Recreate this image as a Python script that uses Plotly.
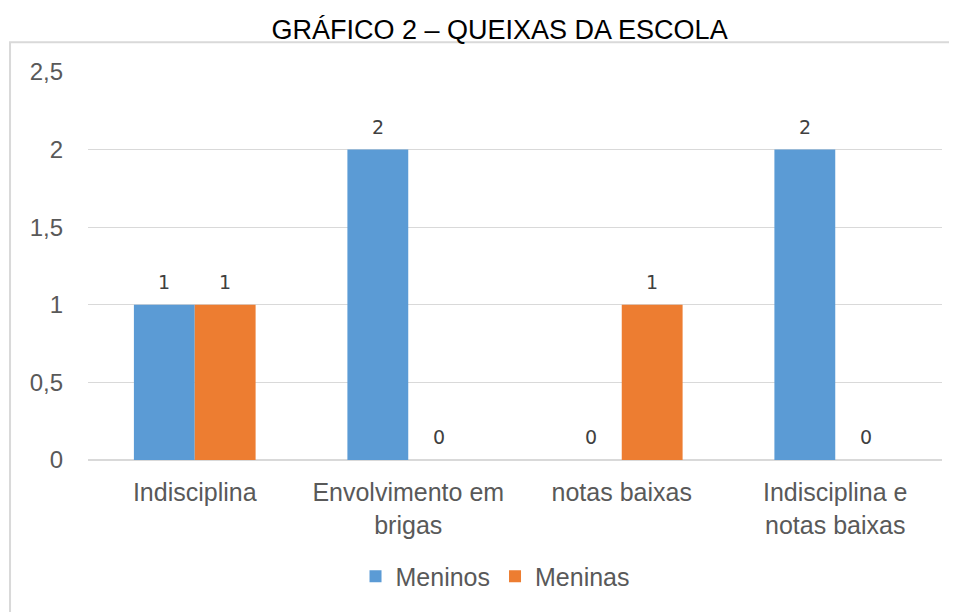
import plotly.graph_objects as go

categories = ["Indisciplina", "Envolvimento em<br>brigas", "notas baixas", "Indisciplina e<br>notas baixas"]
series_names = ["Meninos", "Meninas"]
meninos = [1, 2, 0, 2]
meninas = [1, 0, 1, 0]
colors = ["#5B9BD5", "#ED7D31"]
title = "GRÁFICO 2 – QUEIXAS DA ESCOLA"

W, H = 949, 604
ML, MT, PW, PH = 80, 64, 854, 391
BARGAP = 0.43

fig = go.Figure()
for name, vals, col in zip(series_names, [meninos, meninas], colors):
    fig.add_trace(go.Bar(name=name, x=categories, y=vals, marker_color=col,
                         marker_line_width=0, hoverinfo="x+y"))

# data labels (annotations anchored to the data, shifted for each group position)
bar_px = PW / len(categories) * (1 - BARGAP) / 2
for j, vals in enumerate([meninos, meninas]):
    for cat, v in zip(categories, vals):
        fig.add_annotation(x=cat, y=v, xref="x", yref="y", text=str(v), showarrow=False,
                           xshift=(j - 0.5) * bar_px, yshift=10, yanchor="bottom",
                           font=dict(family="DejaVu Sans, sans-serif", size=19, color="#404040"))

fig.update_layout(
    width=W, height=H,
    margin=dict(l=ML, r=W - ML - PW, t=MT, b=H - MT - PH),
    paper_bgcolor="white", plot_bgcolor="white",
    separators=",.",
    barmode="group", bargap=BARGAP, bargroupgap=0,
    title=dict(text=title, x=0.518, xanchor="center", y=0.9636, yanchor="middle",
               font=dict(family="Liberation Sans, Arial, sans-serif", size=27, color="#000000")),
    font=dict(family="Liberation Sans, Arial, sans-serif", size=24, color="#595959"),
    legend=dict(orientation="h", x=0.4766, xanchor="center", y=-0.3, yanchor="middle",
                font=dict(size=25, color="#595959"), itemwidth=30),
    showlegend=True,
)
fig.update_yaxes(range=[0, 2.5], dtick=0.5, showgrid=True, gridcolor="#D9D9D9", gridwidth=1,
                 zeroline=True, zerolinecolor="#D9D9D9", showline=False, ticks="",
                 ticklabelstandoff=24, tickfont=dict(size=24, color="#595959"))
fig.update_xaxes(showline=False, ticks="", ticklabelstandoff=15,
                 tickfont=dict(size=25, color="#595959"))

fig.add_shape(type="rect", xref="paper", yref="paper", x0=-0.0913, x1=1.2, y0=-0.5, y1=1.0767,
              line=dict(color="#D9D9D9", width=2), fillcolor="rgba(0,0,0,0)", layer="below")

fig.write_html("out.html")
